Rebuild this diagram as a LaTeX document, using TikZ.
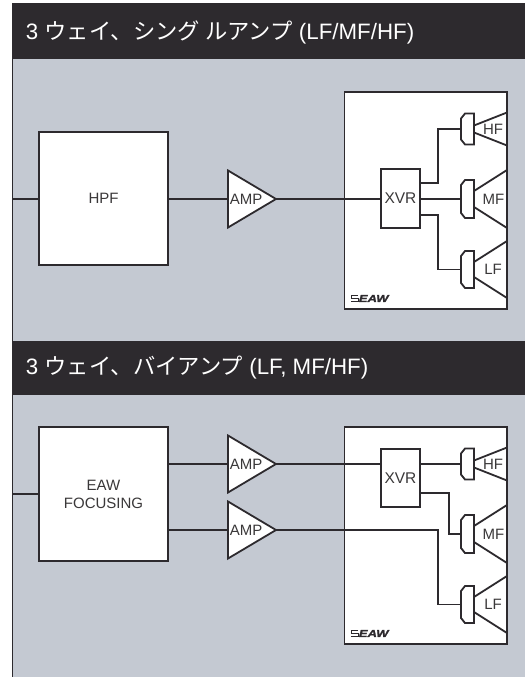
\documentclass[tikz,border=0pt]{standalone}
\usepackage{fontspec}
\setmainfont{Liberation Sans}
\newfontfamily\cjk{Noto Sans CJK JP}
\usepackage{tikz}
\usetikzlibrary{shapes.geometric}
\definecolor{barcol}{HTML}{2D2A2E}
\definecolor{panelcol}{HTML}{C4C9D2}
\definecolor{inkcol}{HTML}{3A3839}

\newcommand{\driverpath}[1]{
  \draw[draw=barcol] ([xshift=4pt]#1.north west) -- ([yshift=-5pt]#1.north west) -- ([yshift=5pt]#1.south west)
    -- ([xshift=4pt]#1.south west) -- (#1.south east) -- (#1.north east) -- cycle;
}

\begin{document}
\begin{tikzpicture}[x=1pt,y=-1pt,-,line width=1.8pt,draw=barcol,
    label text/.style={text=inkcol,font=\fontsize{15}{18}\selectfont,inner sep=0pt},
    title text/.style={text=white,anchor=west,inner sep=0pt,font=\fontsize{22.3}{25}\selectfont},
    logo text/.style={text=barcol,inner sep=0pt,anchor=west,
      font=\fontsize{10}{10}\selectfont\bfseries\itshape\addfontfeature{FakeBold=1.5}},
    main box/.style={rectangle,draw=barcol,fill=white,inner sep=0pt,outer sep=0pt,align=center,
      font=\fontsize{15}{18}\selectfont,text=inkcol},
    amp node/.style={isosceles triangle,isosceles triangle stretches,draw=barcol,fill=white,
      minimum width=57pt,minimum height=48pt,inner sep=0pt,outer sep=0pt,anchor=lower side},
    driver node/.style={rectangle,minimum width=13pt,inner sep=0pt,outer sep=0pt}]
  \useasboundingbox (0,0) rectangle (525,677);

  % panels and bars
  \fill[panelcol] (12,59) rectangle (524.5,677);
  \fill[barcol] (12,3.5) rectangle (524.5,59);
  \fill[barcol] (12,341) rectangle (524.5,394.5);
  \draw (12.5,59) -- (12.5,677);
  \node[title text] (title1) at (25,32) {3 {\cjk ウェイ、シング ルアンプ} (LF/MF/HF)};
  \node[title text] (title2) at (25,368) {3 {\cjk ウェイ、バイアンプ} (LF, MF/HF)};

  % speakers
  \foreach \off/\s in {0/a,335/b} {
    \begin{scope}[shift={(0,\off)}]
      \node[main box,minimum width=162.5pt,minimum height=217pt] (cab\s) at (425.75,200.5) {};
      \foreach \drv/\cy/\hgt/\ra/\rb/\tx in {HF/129/31/3.5/16.5/493,MF/199/38/8/29/493.5,LF/269.5/37/7.5/28.5/493} {
        \node[driver node,minimum height=\hgt pt] (\drv\s) at (467.5,\cy) {};
        \driverpath{\drv\s}
        \draw (\drv\s.east |- 0,\cy-\ra) -- (cab\s.east |- 0,\cy-\rb);
        \draw (\drv\s.east |- 0,\cy+\ra) -- (cab\s.east |- 0,\cy+\rb);
        \node[label text] (\drv\s text) at (\tx,\cy) {\drv};
      }
      \node[logo text] (logo\s) at (358,298.5) {\scalebox{1.3}[1]{EAW}};
      \draw[line width=0.8pt] (358,295.5) -- (351.5,295.5) -- (351.5,298.5) -- (358,298.5) -- (358,301.5) -- (350.5,301.5);
    \end{scope}
  }

  % top chain
  \coordinate (in1) at (12.5,199);
  \node[main box,minimum width=129pt,minimum height=133pt] (hpf) at (103.5,198.5) {HPF};
  \node[amp node] (amp1) at (228,199) {};
  \node[label text] (amp1 text) at (246,199) {AMP};
  \node[main box,minimum width=39pt,minimum height=59pt,font=\fontsize{15.5}{18}\selectfont] (xvr1) at (400.5,198.5) {XVR};
  \draw (in1) -- (hpf.west |- in1);
  \draw (hpf.east |- amp1.apex) -- (amp1.lower side);
  \draw (amp1.apex) -- (xvr1.west |- amp1.apex);
  \draw (xvr1.east |- MFa.west) -- (MFa.west);
  \draw ([yshift=15.5pt]xvr1.east) -- ++(18,0) |- (HFa.west);
  \draw ([yshift=-16.5pt]xvr1.east) -- ++(18,0) |- (LFa.west);

  % bottom chain
  \coordinate (in2) at (12.5,494);
  \node[main box,minimum width=129pt,minimum height=134pt] (focus) at (103.5,494) {EAW\\FOCUSING};
  \node[amp node] (amp2) at (228,464) {};
  \node[label text] (amp2 text) at (246,464) {AMP};
  \node[amp node] (amp3) at (228,530) {};
  \node[label text] (amp3 text) at (246,530) {AMP};
  \node[main box,minimum width=39pt,minimum height=58pt,font=\fontsize{15.5}{18}\selectfont] (xvr2) at (400.5,478) {XVR};
  \coordinate (bend3) at (438,530);
  \draw (in2) -- (focus.west |- in2);
  \draw (focus.east |- amp2.apex) -- (amp2.lower side);
  \draw (focus.east |- amp3.apex) -- (amp3.lower side);
  \draw (amp2.apex) -- (xvr2.west |- amp2.apex);
  \draw (amp3.apex) -- (bend3) |- (LFb.west);
  \draw (xvr2.east |- HFb.west) -- (HFb.west);
  \draw ([yshift=-15pt]xvr2.east) -- ++(29,0) |- (MFb.west);
\end{tikzpicture}
\end{document}
